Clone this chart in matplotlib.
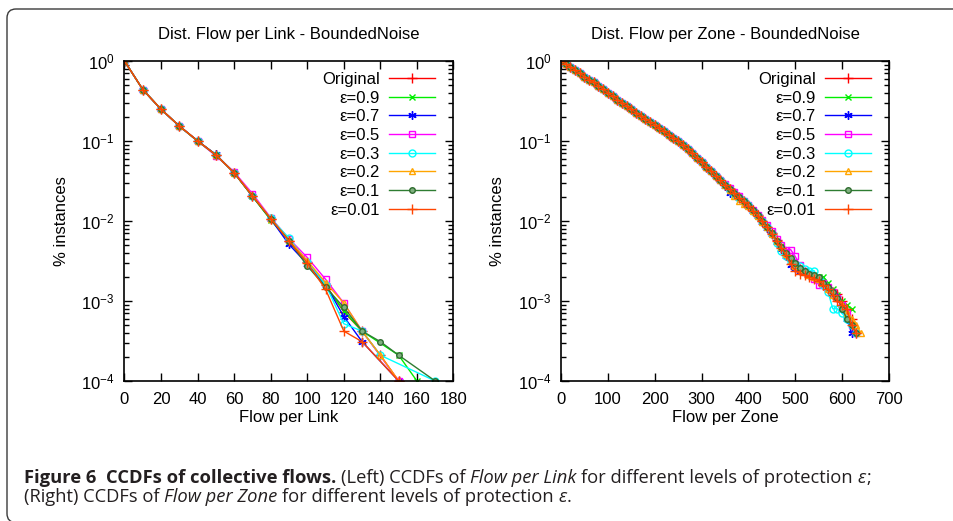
import numpy as np
import matplotlib
matplotlib.use('Agg')
import matplotlib.pyplot as plt
from matplotlib.patches import FancyBboxPatch
from matplotlib.ticker import LogLocator, NullFormatter
from matplotlib.transforms import IdentityTransform

# ---------------- data ----------------
labels = ['Original', 'ε=0.9', 'ε=0.7', 'ε=0.5', 'ε=0.3', 'ε=0.2', 'ε=0.1', 'ε=0.01']

# Left panel: Flow per Link (x, CCDF)
link_orig_x = [0, 10, 20, 30, 40, 50, 60, 70, 80, 90, 100, 110, 120, 130, 140, 150]
link_orig_y = [1.0, 0.44, 0.249, 0.154, 0.101, 0.067, 0.040, 0.0205, 0.0107, 0.0057, 0.0031, 0.0016, 0.00073, 0.00042, 0.00021, 0.0001]
link_e09_x = [0, 10, 20, 30, 40, 50, 60, 70, 80, 90, 100, 110, 120, 130, 150, 160]
link_e09_y = [1.0, 0.44, 0.249, 0.154, 0.100, 0.067, 0.040, 0.0203, 0.0103, 0.0056, 0.0030, 0.00155, 0.00075, 0.00042, 0.00021, 0.0001]
link_e07_x = [0, 10, 20, 30, 40, 50, 60, 70, 80, 90, 100, 110, 120, 130, 150]
link_e07_y = [1.0, 0.44, 0.248, 0.153, 0.100, 0.068, 0.040, 0.0207, 0.0106, 0.0051, 0.0029, 0.0016, 0.00064, 0.00031, 0.0001]
link_e05_x = [0, 10, 20, 30, 40, 50, 60, 70, 80, 90, 100, 110, 120, 130, 150]
link_e05_y = [1.0, 0.44, 0.249, 0.155, 0.100, 0.065, 0.041, 0.0220, 0.0110, 0.0060, 0.0035, 0.00187, 0.00094, 0.00042, 0.0001]
link_e03_x = [0, 10, 20, 30, 40, 50, 60, 70, 80, 90, 100, 110, 120, 130, 140, 170]
link_e03_y = [1.0, 0.44, 0.249, 0.154, 0.099, 0.067, 0.040, 0.0205, 0.0108, 0.0061, 0.0031, 0.0016, 0.00052, 0.00042, 0.00021, 0.0001]
link_e02_x = [0, 10, 20, 30, 40, 50, 60, 70, 80, 90, 100, 110, 120, 130, 140, 150]
link_e02_y = [1.0, 0.44, 0.249, 0.154, 0.100, 0.067, 0.040, 0.0210, 0.0107, 0.0058, 0.0032, 0.0017, 0.00094, 0.00042, 0.00021, 0.0001]
link_e01_x = [0, 10, 20, 30, 40, 50, 60, 70, 80, 90, 100, 110, 120, 130, 140, 150, 170]
link_e01_y = [1.0, 0.44, 0.249, 0.154, 0.100, 0.067, 0.040, 0.0203, 0.0105, 0.0057, 0.00274, 0.0015, 0.00083, 0.00042, 0.00031, 0.00021, 0.0001]
link_e001_x = [0, 10, 20, 30, 40, 50, 60, 70, 80, 90, 100, 110, 120, 130, 150]
link_e001_y = [1.0, 0.44, 0.249, 0.154, 0.100, 0.067, 0.040, 0.0205, 0.0107, 0.0056, 0.0030, 0.0014, 0.00042, 0.00031, 0.0001]

# Right panel: Flow per Zone
zone_x = list(range(0, 650, 10))
zone_head = [1.0, 0.92, 0.84, 0.77, 0.70, 0.64, 0.58, 0.54, 0.49, 0.447, 0.40, 0.363, 0.33, 0.30,
             0.272, 0.248, 0.226, 0.206, 0.188, 0.174, 0.158, 0.145, 0.132, 0.120, 0.110, 0.100,
             0.089, 0.079, 0.071, 0.062, 0.055, 0.048, 0.0427, 0.037, 0.0324]
zone_orig_tail = [0.028, 0.025, 0.0222, 0.0198, 0.0177, 0.0158, 0.0136, 0.0118, 0.0101, 0.0085, 0.0071, 0.0058,
                  0.0048, 0.0040, 0.0033, 0.0028, 0.0025, 0.0023, 0.0021, 0.0020, 0.0018, 0.0016, 0.0014,
                  0.0013, 0.00123, 0.0010, 0.0008, 0.0006, 0.0004]
zone_e09_tail = [0.028, 0.0252, 0.0224, 0.0200, 0.0178, 0.0157, 0.0136, 0.0117, 0.0100, 0.0086, 0.0072, 0.0057,
                 0.0049, 0.0041, 0.0034, 0.0029, 0.0026, 0.0024, 0.0022, 0.0021, 0.0020, 0.0020, 0.0017,
                 0.0014, 0.0012, 0.0010, 0.0009, 0.0008]
zone_e07_tail = [0.027, 0.0226, 0.0215, 0.0195, 0.0174, 0.0155, 0.0133, 0.0115, 0.0098, 0.0082, 0.0068, 0.0055,
                 0.0045, 0.0036, 0.0028, 0.0026, 0.0024, 0.0023, 0.0021, 0.0020, 0.0018, 0.0016, 0.0014,
                 0.0012, 0.0011, 0.0008, 0.0006, 0.0004]
zone_e05_tail = [0.029, 0.0262, 0.0230, 0.0203, 0.0180, 0.0160, 0.0138, 0.0120, 0.0102, 0.0088, 0.0074, 0.0060,
                 0.0050, 0.0044, 0.0044, 0.0036, 0.0028, 0.0024, 0.0022, 0.0019, 0.0016, 0.0017, 0.0015,
                 0.0013, 0.0011, 0.0009, 0.0007, 0.0005, 0.0004]
zone_e03_tail = [0.028, 0.0245, 0.0218, 0.0196, 0.0176, 0.0157, 0.0135, 0.0116, 0.0099, 0.0083, 0.0068, 0.0053,
                 0.0042, 0.0036, 0.0032, 0.0029, 0.0027, 0.0025, 0.0024, 0.0024, 0.0019, 0.0016, 0.0013,
                 0.0008, 0.0008, 0.0007, 0.0006, 0.0005, 0.0004]
zone_e02_tail = [0.028, 0.0245, 0.0205, 0.0178, 0.0165, 0.0152, 0.0132, 0.0114, 0.0098, 0.0083, 0.0069, 0.0056,
                 0.0047, 0.0039, 0.0032, 0.0027, 0.0025, 0.0023, 0.0021, 0.0020, 0.0019, 0.0017, 0.0014,
                 0.0012, 0.0011, 0.0009, 0.0007, 0.0006, 0.0005, 0.0004]
zone_e01_tail = [0.028, 0.025, 0.0224, 0.0200, 0.0179, 0.0160, 0.0138, 0.0119, 0.0101, 0.0085, 0.0071, 0.0057,
                 0.0047, 0.0040, 0.0034, 0.0030, 0.0026, 0.0024, 0.0022, 0.0021, 0.0020, 0.0017, 0.0015,
                 0.0013, 0.0011, 0.0008, 0.0006, 0.0005, 0.0004]
zone_e001_tail = [0.028, 0.025, 0.0221, 0.0196, 0.0175, 0.0156, 0.0134, 0.0116, 0.0099, 0.0083, 0.0069, 0.0056,
                  0.0046, 0.0038, 0.0029, 0.0024, 0.0022, 0.0021, 0.0020, 0.0019, 0.0018, 0.0016, 0.0014,
                  0.0012, 0.0010, 0.0009, 0.0008, 0.0005, 0.0004]

link_xticks = [0, 20, 40, 60, 80, 100, 120, 140, 160, 180]
zone_xticks = [0, 100, 200, 300, 400, 500, 600, 700]

# ---------------- styles ----------------
colors = ['#ff0000', '#00ee00', '#0000ff', '#ff00ff', '#00ffff', '#ffa500', '#2e7d32', '#ff4500']
markers = ['+', 'x', (6, 2, 0), 's', 'o', '^', 'o', '+']
msizes = [7, 5, 6, 5, 5, 5, 4, 7]
mfcs = ['none', 'none', 'none', 'none', 'none', 'none', '#7fb07f', 'none']

FS = 12
plt.rcParams['font.family'] = ['Liberation Sans', 'DejaVu Sans']
plt.rcParams['mathtext.fontset'] = 'custom'
plt.rcParams['mathtext.rm'] = 'Liberation Sans'
plt.rcParams['mathtext.it'] = 'Liberation Sans:italic'

W, H = 954, 521
fig = plt.figure(figsize=(W / 100, H / 100), dpi=100)

def px_axes(x0, x1, ytop, ybot):
    return fig.add_axes([x0 / W, 1 - ybot / H, (x1 - x0) / W, (ybot - ytop) / H])

axL = px_axes(124.5, 453.5, 61, 381)
axR = px_axes(561, 889, 61, 381)

link_series = [(link_orig_x, link_orig_y), (link_e09_x, link_e09_y), (link_e07_x, link_e07_y),
               (link_e05_x, link_e05_y), (link_e03_x, link_e03_y), (link_e02_x, link_e02_y),
               (link_e01_x, link_e01_y), (link_e001_x, link_e001_y)]
zone_tails = [zone_orig_tail, zone_e09_tail, zone_e07_tail, zone_e05_tail, zone_e03_tail,
              zone_e02_tail, zone_e01_tail, zone_e001_tail]

for i in range(8):
    kw = dict(color=colors[i], marker=markers[i], ms=msizes[i], mfc=mfcs[i], mec=colors[i],
              mew=1.0, lw=1.0, label=labels[i])
    if i == 6:
        kw['mec'] = '#2e6b2e'
    x, y = link_series[i]
    axL.plot(x, y, **kw)
    zy = zone_head + zone_tails[i]
    axR.plot(zone_x[:len(zy)], zy, **kw)

for ax, title, xlabel, xlim, xticks in [
        (axL, 'Dist. Flow per Link - BoundedNoise', 'Flow per Link', (0, 180), link_xticks),
        (axR, 'Dist. Flow per Zone - BoundedNoise', 'Flow per Zone', (0, 700), zone_xticks)]:
    ax.set_yscale('log')
    ax.set_ylim(1e-4, 1)
    ax.set_xlim(*xlim)
    ax.set_xticks(xticks)
    ax.yaxis.set_major_locator(LogLocator(base=10, numticks=10))
    ax.yaxis.set_minor_locator(LogLocator(base=10, subs=np.arange(2, 10), numticks=20))
    ax.yaxis.set_minor_formatter(NullFormatter())
    ax.tick_params(which='both', direction='in', top=True, right=True, labelsize=FS, width=1.0, color='black')
    ax.tick_params(which='major', length=5.5)
    ax.tick_params(which='minor', length=3.5)
    ax.tick_params(axis='y', pad=7)
    ax.tick_params(axis='x', pad=8)
    for s in ax.spines.values():
        s.set_linewidth(1.2)
        s.set_color('black')
    ax.set_title(title, fontsize=FS, pad=15.8)
    ax.set_xlabel(xlabel, fontsize=FS, labelpad=2)
    ax.set_ylabel('% instances', fontsize=FS, labelpad=9)
    ax.legend(loc='upper right', bbox_to_anchor=(0.944, 0.966), markerfirst=False, frameon=False,
              handlelength=2.75, handletextpad=0.55, labelspacing=0.22, borderpad=0,
              borderaxespad=0, fontsize=FS)

# ---------------- frame ----------------
fig.add_artist(FancyBboxPatch((7, -1.5), W + 30, H - 9 + 1.5, boxstyle='round,pad=0,rounding_size=9',
                              fill=False, edgecolor='#3a3a3a', lw=1.0, transform=IdentityTransform()))

# ---------------- caption ----------------
CAP_FONT = ['Open Sans', 'DejaVu Sans']
line1 = [('Figure 6  CCDFs of collective flows.', 'b', False), ('(Left) CCDFs of', 'n', True),
         ('Flow per Link', 'i', True), ('for different levels of protection', 'n', True),
         ('ε', 'i', True), (';', 'n', False)]
line2 = [('(Right) CCDFs of', 'n', False), ('Flow per Zone', 'i', True),
         ('for different levels of protection', 'n', True), ('ε', 'i', True), ('.', 'n', False)]

renderer = fig.canvas.get_renderer()

def style_kw(style, fs):
    kw = dict(fontsize=fs, family=CAP_FONT, va='baseline', ha='left', color='#231f20',
              transform=IdentityTransform())
    if style == 'b':
        kw['fontweight'] = 'bold'
    if style == 'i':
        kw['fontstyle'] = 'italic'
    return kw

def text_w(s, style, fs):
    t = fig.text(0, 0, s, **style_kw(style, fs))
    w = t.get_window_extent(renderer).width
    t.remove()
    return w

def draw_line(runs, x0, ybase, fs, draw=True):
    sp = text_w('x x', 'n', fs) - text_w('xx', 'n', fs)
    x = x0
    for s, st, space in runs:
        if space:
            x += sp
        if draw:
            t = fig.text(x, ybase, s, **style_kw(st, fs))
            x += t.get_window_extent(renderer).width
        else:
            x += text_w(s, st, fs)
    return x

fs0 = 10.0
w0 = draw_line(line1, 0, -100, fs0, draw=False)
fs = fs0 * 846.0 / w0
draw_line(line1, 24, H - 483, fs)
draw_line(line2, 24, H - 501.5, fs)

fig.savefig('out.png', dpi=100)
